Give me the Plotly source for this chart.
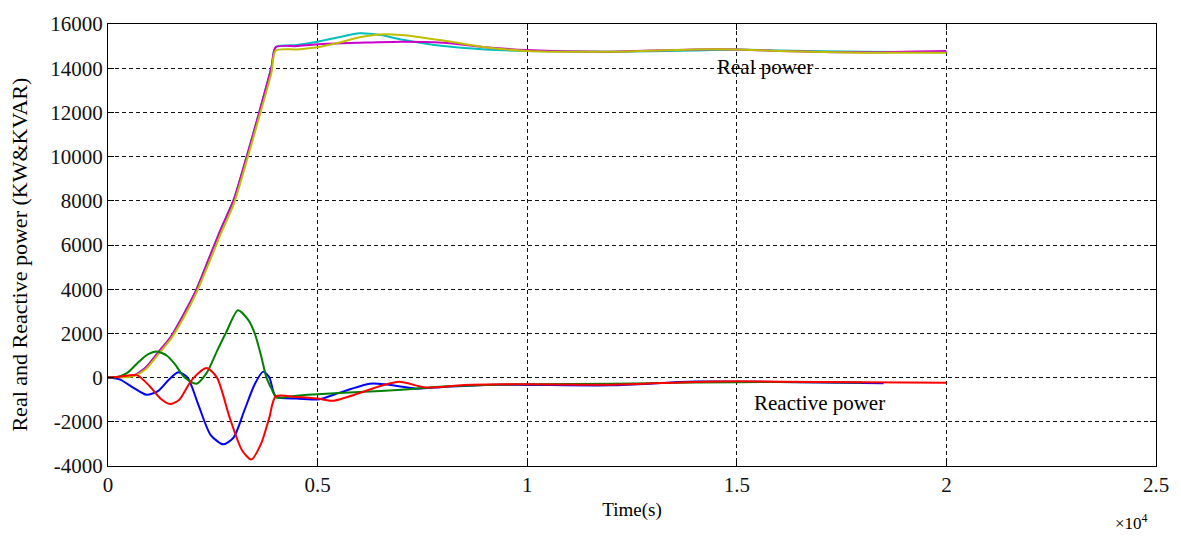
import plotly.graph_objects as go

# ---- data (time in units of 1e4 samples, power in kW / kVAR) ----
t_cyan = [0, 0.03, 0.06, 0.09, 0.12, 0.15, 0.18, 0.21, 0.24, 0.27, 0.30, 0.33, 0.36, 0.39, 0.40,
          0.45, 0.50, 0.55, 0.60, 0.65, 0.70, 0.80, 0.90, 1.0, 1.2, 1.4, 1.5, 1.6, 1.8, 2.0]
p_cyan = [0, 20, 90, 460, 1150, 1850, 2850, 3950, 5350, 6750, 8050, 9950, 11950, 14050, 14950,
          15050, 15200, 15400, 15580, 15500, 15300, 15000, 14850, 14780, 14750, 14800, 14850, 14800, 14750, 14720]

t_mag = [0, 0.03, 0.06, 0.09, 0.12, 0.15, 0.18, 0.21, 0.24, 0.27, 0.30, 0.33, 0.36, 0.39, 0.40,
         0.45, 0.50, 0.60, 0.70, 0.80, 0.90, 1.0, 1.2, 1.4, 1.5, 1.6, 1.8, 2.0]
p_mag = [0, 20, 90, 460, 1150, 1850, 2850, 3950, 5350, 6750, 8050, 9950, 11950, 14050, 14950,
         15000, 15080, 15150, 15200, 15150, 14950, 14820, 14750, 14850, 14850, 14780, 14720, 14780]

t_yel = [0, 0.03, 0.06, 0.09, 0.12, 0.15, 0.18, 0.21, 0.24, 0.27, 0.30, 0.33, 0.36, 0.39, 0.40,
         0.45, 0.50, 0.55, 0.60, 0.65, 0.70, 0.80, 0.90, 1.0, 1.2, 1.4, 1.5, 1.6, 1.8, 2.0]
p_yel = [0, 10, 60, 380, 1050, 1750, 2700, 3800, 5150, 6550, 7850, 9750, 11750, 13800, 14800,
         14850, 14950, 15150, 15400, 15530, 15500, 15250, 14950, 14780, 14750, 14850, 14850, 14780, 14700, 14700]

t_green = [0, 0.02, 0.045, 0.07, 0.095, 0.116, 0.14, 0.16, 0.183, 0.211, 0.235, 0.26, 0.282, 0.31,
           0.335, 0.35, 0.365, 0.378, 0.39, 0.402, 0.45, 0.5, 0.6, 0.7, 0.8, 0.9, 1.0, 1.2, 1.4, 1.6, 1.8]
q_green = [0, 20, 200, 650, 1050, 1180, 1000, 600, 0, -280, 200, 1200, 2050, 3050,
           2600, 2000, 1000, 0, -500, -900, -820, -750, -650, -550, -400, -330, -300, -280, -220, -200, -220]

t_blue = [0, 0.03, 0.06, 0.092, 0.12, 0.145, 0.167, 0.19, 0.215, 0.245, 0.275, 0.30, 0.325, 0.35,
          0.37, 0.385, 0.40, 0.45, 0.505, 0.55, 0.624, 0.66, 0.735, 0.8, 0.9, 1.0, 1.2, 1.4, 1.6, 1.85]
q_blue = [0, -100, -450, -780, -600, -100, 245, 0, -1200, -2600, -3020, -2700, -1500, -300,
          270, 0, -850, -950, -980, -700, -280, -300, -500, -420, -330, -330, -350, -180, -200, -250]

t_red = [0, 0.03, 0.07, 0.10, 0.125, 0.148, 0.17, 0.20, 0.235, 0.26, 0.29, 0.32, 0.342, 0.365,
         0.385, 0.40, 0.45, 0.5, 0.536, 0.6, 0.65, 0.695, 0.759, 0.85, 1.0, 1.2, 1.4, 1.5, 1.7, 2.0]
q_red = [0, 50, 100, -400, -950, -1200, -1000, -100, 440, 0, -1800, -3300, -3700, -3000,
         -1800, -850, -880, -950, -1050, -700, -380, -190, -450, -330, -300, -320, -200, -170, -200, -230]

x_ticks = [0, 0.5, 1, 1.5, 2, 2.5]
x_tick_text = ["0", "0.5", "1", "1.5", "2", "2.5"]
y_ticks = [-4000, -2000, 0, 2000, 4000, 6000, 8000, 10000, 12000, 14000, 16000]
y_tick_text = ["-4000", "-2000", "0", "2000", "4000", "6000", "8000", "10000", "12000", "14000", "16000"]

FONT = "Liberation Serif"
W, H = 1181, 538
ML, MR, MT, MB = 108, 23, 19, 72
PW, PH = W - ML - MR, H - MT - MB


def px_to_paper(px, py):
    return (px - ML) / PW, (H - MB - py) / PH


series = [
    (t_cyan, p_cyan, "#00bfbf"),
    (t_mag, p_mag, "#cc00cc"),
    (t_yel, p_yel, "#bfbf00"),
    (t_blue, q_blue, "#0000ff"),
    (t_green, q_green, "#008000"),
    (t_red, q_red, "#ff0000"),
]

fig = go.Figure()
for tx, ty, col in series:
    fig.add_trace(go.Scatter(x=tx, y=ty, mode="lines",
                             line=dict(color=col, width=2, shape="spline", smoothing=0.7),
                             showlegend=False, hoverinfo="skip"))

fig.add_annotation(x=1.567, y=14050, text="Real power", showarrow=False,
                   font=dict(family=FONT, size=21, color="black"))
fig.add_annotation(x=1.697, y=-1140, text="Reactive power", showarrow=False,
                   font=dict(family=FONT, size=21, color="black"))

ax_, ay_ = px_to_paper(1133, 523)
fig.add_annotation(x=ax_, y=ay_, xref="paper", yref="paper", xanchor="center", yanchor="middle",
                   text="×10<sup>4</sup>", showarrow=False,
                   font=dict(family=FONT, size=17, color="black"))

tx_, ty_ = px_to_paper(19, 252)
fig.add_annotation(x=tx_, y=ty_, xref="paper", yref="paper", xanchor="center", yanchor="middle",
                   text="Real and Reactive power (KW&KVAR)", textangle=-90, showarrow=False,
                   font=dict(family=FONT, size=22, color="black"))

axis_common = dict(showline=True, linecolor="black", linewidth=1, mirror="ticks",
                   ticks="inside", ticklen=6, tickcolor="black",
                   showgrid=True, gridcolor="#111111", gridwidth=1, griddash="4px,3px",
                   zeroline=False, tickfont=dict(family=FONT, size=21, color="#111111"))

fig.update_xaxes(range=[0, 2.5], tickvals=x_ticks, ticktext=x_tick_text,
                 title=dict(text="Time(s)", font=dict(family=FONT, size=19, color="black"), standoff=6),
                 **axis_common)
fig.update_yaxes(range=[-4000, 16000], tickvals=y_ticks, ticktext=y_tick_text,
                 **axis_common)

fig.update_layout(width=W, height=H, margin=dict(l=ML, r=MR, t=MT, b=MB),
                  paper_bgcolor="white", plot_bgcolor="white")

fig.write_html("out.html")
